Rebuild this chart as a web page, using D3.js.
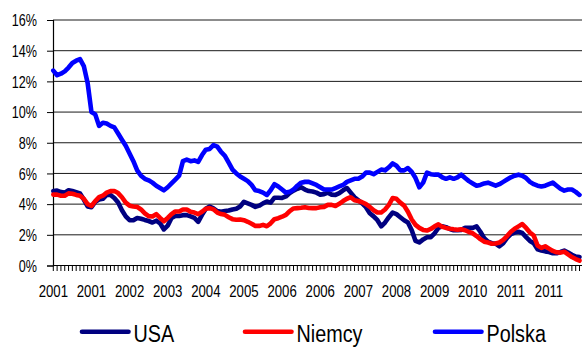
<!DOCTYPE html>
<html>
<head>
<meta charset="utf-8">
<script src="https://cdn.jsdelivr.net/npm/d3@7"></script>
<style>
  html, body { margin: 0; padding: 0; background: #fff; }
  svg { display: block; }
  text { font-family: "Liberation Sans", Arial, sans-serif; fill: #000; }
</style>
</head>
<body>
<svg id="chart" width="582" height="347"></svg>
<script>
// Monthly rates per country from January 2001 (in percent)
const usa = [
  4.85,4.88,4.78,4.75,4.9,4.85,4.78,4.7,4.3,3.85,
  3.8,4.15,4.3,4.35,4.6,4.6,4.4,4.1,3.6,3.2,
  2.95,2.95,3.1,3.05,2.97,2.9,2.8,2.92,2.75,2.35,
  2.6,3.1,3.23,3.23,3.28,3.28,3.2,3.1,2.85,3.3,
  3.7,3.84,3.72,3.55,3.5,3.55,3.58,3.65,3.7,3.85,
  4.15,4.05,3.95,3.82,3.9,4.05,4.17,4.1,4.42,4.42,
  4.4,4.5,4.72,4.88,5.0,5.1,4.95,4.85,4.82,4.75,
  4.62,4.65,4.75,4.62,4.6,4.72,4.9,5.05,4.75,4.45,
  4.25,4.05,3.8,3.4,3.2,2.95,2.55,2.8,3.15,3.45,
  3.35,3.15,2.95,2.8,2.3,1.6,1.5,1.7,1.84,1.85,
  2.1,2.45,2.55,2.5,2.38,2.3,2.3,2.32,2.45,2.45,
  2.45,2.55,2.2,1.78,1.55,1.45,1.42,1.25,1.45,1.8,
  2.05,2.15,2.2,2.12,1.85,1.6,1.45,1.05,0.98,0.92,
  0.88,0.8,0.8,0.88,0.97,0.85,0.7,0.58,0.55
];
const niemcy = [
  4.62,4.62,4.55,4.55,4.7,4.68,4.6,4.55,4.35,4.0,
  3.88,4.2,4.45,4.55,4.75,4.85,4.85,4.72,4.45,4.1,
  3.9,3.85,3.82,3.65,3.4,3.22,3.19,3.35,3.1,2.88,
  3.1,3.35,3.52,3.52,3.65,3.65,3.5,3.45,3.35,3.5,
  3.7,3.74,3.66,3.45,3.35,3.3,3.15,3.02,2.98,3.0,
  2.95,2.85,2.72,2.58,2.58,2.65,2.56,2.75,3.02,3.08,
  3.18,3.3,3.55,3.72,3.74,3.76,3.8,3.75,3.74,3.74,
  3.8,3.82,3.95,3.95,3.88,4.02,4.2,4.35,4.45,4.25,
  4.2,4.12,4.0,3.82,3.6,3.45,3.45,3.65,3.95,4.4,
  4.35,4.1,3.9,3.5,3.0,2.65,2.45,2.32,2.28,2.38,
  2.55,2.68,2.52,2.45,2.4,2.36,2.33,2.36,2.3,2.18,
  2.1,1.92,1.72,1.55,1.5,1.42,1.43,1.5,1.67,1.92,
  2.2,2.4,2.55,2.7,2.45,2.15,1.95,1.3,1.15,1.25,
  1.1,0.95,0.86,0.84,0.9,0.72,0.55,0.42,0.32
];
const polska = [
  12.7,12.4,12.5,12.65,12.9,13.2,13.35,13.45,13.0,11.9,
  10.0,9.85,9.1,9.3,9.25,9.1,9.0,8.6,8.2,7.8,
  7.3,6.8,6.2,5.85,5.65,5.55,5.4,5.2,5.05,4.9,
  5.1,5.35,5.6,5.85,6.8,6.9,6.8,6.85,6.75,7.2,
  7.55,7.6,7.85,7.75,7.4,7.15,6.7,6.25,6.0,5.8,
  5.65,5.5,5.25,4.9,4.85,4.75,4.6,4.9,5.3,5.15,
  4.95,4.75,4.8,4.95,5.2,5.4,5.45,5.45,5.35,5.25,
  5.1,4.95,4.95,4.95,5.05,5.15,5.25,5.45,5.55,5.65,
  5.65,5.8,6.05,6.05,5.95,6.1,6.25,6.2,6.4,6.65,
  6.5,6.2,6.2,6.35,6.1,5.7,5.1,5.4,6.05,5.95,
  5.92,5.92,5.75,5.65,5.75,5.65,5.75,5.92,5.7,5.5,
  5.35,5.2,5.25,5.35,5.4,5.3,5.2,5.3,5.45,5.6,
  5.75,5.85,5.92,5.85,5.7,5.45,5.3,5.2,5.15,5.2,
  5.3,5.4,5.2,5.0,4.88,4.95,4.95,4.8,4.6
];

// Category axis labels, one every 10 months
const tickYears = ["2001","2001","2002","2003","2004","2005","2006","2006","2007","2008","2009","2010","2011","2011"];
const labelEvery = 10;
const yTicks = [0, 2, 4, 6, 8, 10, 12, 14, 16];

const seriesNames = ["USA", "Niemcy", "Polska"];
const seriesColors = ["#000080", "#ff0000", "#0000ff"];
const seriesData = [usa, niemcy, polska];

const W = 582, H = 347;
const svg = d3.select("#chart");

const x = d3.scaleLinear().domain([0, 130]).range([53.3, 549]);
const y = d3.scaleLinear().domain([0, 16]).range([265.5, 20]);
const plotLeft = 53, plotRight = W;

// Horizontal gridlines
svg.append("g").selectAll("line")
  .data(yTicks.filter(d => d > 0))
  .join("line")
  .attr("x1", plotLeft).attr("x2", plotRight)
  .attr("y1", d => y(d)).attr("y2", d => y(d))
  .attr("stroke", "#1a1a1a").attr("stroke-width", 1);

// Y axis
const yAxis = d3.axisLeft(y).tickValues(yTicks).tickSize(6).tickFormat(d => d + "%");
const gy = svg.append("g").attr("transform", `translate(${plotLeft},0)`).call(yAxis);
gy.select(".domain").attr("stroke", "#000").attr("stroke-width", 1.2);
gy.selectAll(".tick line").attr("stroke", "#000");
gy.selectAll(".tick text").remove();
gy.selectAll(".tick").append("g")
  .attr("transform", "translate(-16,5.8) scale(1,1.3)")
  .append("text")
  .attr("text-anchor", "end")
  .attr("font-size", 12.6)
  .text(d => d + "%");

// X axis: one tick per month
const tickIdx = d3.range(0, Math.floor(x.invert(plotRight)) + 1);
const gx = svg.append("g");
gx.append("line")
  .attr("x1", plotLeft).attr("x2", plotRight)
  .attr("y1", y(0)).attr("y2", y(0))
  .attr("stroke", "#000").attr("stroke-width", 1.2);
gx.selectAll("line.tk").data(tickIdx).join("line").attr("class", "tk")
  .attr("x1", d => x(d)).attr("x2", d => x(d))
  .attr("y1", y(0)).attr("y2", y(0) + 5.5)
  .attr("stroke", "#000").attr("stroke-width", 1);
gx.selectAll("g.lbl").data(tickYears).join("g").attr("class", "lbl")
  .attr("transform", (d, i) => `translate(${x(i * labelEvery)},296.5) scale(1,1.27)`)
  .append("text")
  .attr("text-anchor", "middle")
  .attr("font-size", 13.2)
  .text(d => d);

// Series lines (drawn in series order)
const line = d3.line().x((d, i) => x(i)).y(d => y(d));
seriesData.forEach((vals, k) => {
  svg.append("path")
    .datum(vals)
    .attr("fill", "none")
    .attr("stroke", seriesColors[k])
    .attr("stroke-width", 4.6)
    .attr("stroke-linejoin", "round")
    .attr("stroke-linecap", "round")
    .attr("d", line);
});

// Legend
const legendX = [82, 245, 435];
const leg = svg.append("g");
seriesNames.forEach((name, k) => {
  const g = leg.append("g");
  g.append("line")
    .attr("x1", legendX[k]).attr("x2", legendX[k] + 46.5)
    .attr("y1", 331.7).attr("y2", 331.7)
    .attr("stroke", seriesColors[k]).attr("stroke-width", 4.6)
    .attr("stroke-linecap", "round");
  g.append("g")
    .attr("transform", `translate(${legendX[k] + 51.5},341.6) scale(1,1.17)`)
    .append("text")
    .attr("font-size", 19.8)
    .text(name);
});
</script>
</body>
</html>
